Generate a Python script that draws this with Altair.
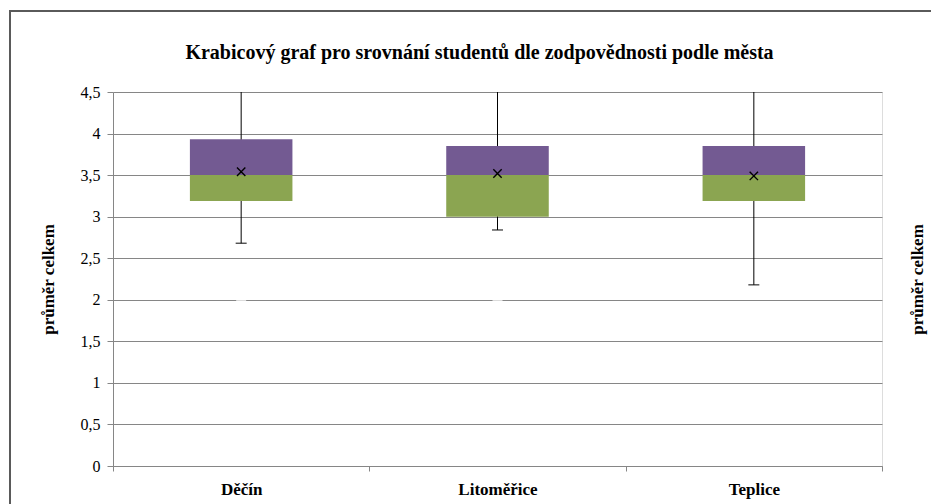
import altair as alt
import pandas as pd

# ---- data ----
cities = ["Děčín", "Litoměřice", "Teplice"]
q1 = [3.19, 3.00, 3.19]
median = [3.50, 3.50, 3.50]
q3 = [3.93, 3.85, 3.85]
whisker_lo = [2.68, 2.84, 2.18]
whisker_hi = [4.50, 4.50, 4.50]
mean = [3.54, 3.52, 3.49]
y_ticks = [0, 0.5, 1, 1.5, 2, 2.5, 3, 3.5, 4, 4.5]
gap_cities = ["Děčín", "Litoměřice"]
gap_values = [2.0, 2.0]

df = pd.DataFrame({
    "city": cities, "q1": q1, "median": median, "q3": q3,
    "lo": whisker_lo, "hi": whisker_hi, "mean": mean,
})
gaps = pd.DataFrame({"city": gap_cities, "v": gap_values})

FONT = "Liberation Serif"
GRID = "#868686"
PURPLE = "#735A92"
GREEN = "#8BA551"

yscale = alt.Scale(domain=[0, 4.5], nice=False, zero=True)
xenc = alt.X(
    "city:N", sort=cities,
    scale=alt.Scale(paddingInner=0, paddingOuter=0),
    axis=alt.Axis(
        title=None, labelAngle=0, tickBand="extent", grid=False,
        domainColor=GRID, tickColor=GRID, tickSize=5, labelPadding=10,
        labelFont=FONT, labelFontSize=17, labelFontWeight="bold", labelColor="black",
    ),
)

left_axis = alt.Axis(
    values=y_ticks, labelExpr="replace(format(datum.value, '~g'), '.', ',')",
    grid=True, gridColor=GRID, gridWidth=1,
    domainColor=GRID, tickColor=GRID, tickSize=6, labelPadding=7,
    labelFont=FONT, labelFontSize=16, labelColor="black",
    title="průměr celkem", titleFont=FONT, titleFontSize=17, titleFontWeight="bold",
    titleColor="black", titleAngle=270, titleX=-60, titleY=187,
    titleAlign="center", titleBaseline="alphabetic",
)

base = alt.Chart(df)

whisker = base.mark_rule(color="black", strokeWidth=1).encode(
    x=xenc, y=alt.Y("lo:Q", scale=yscale, axis=left_axis), y2="hi:Q"
)
gap = alt.Chart(gaps).mark_tick(color="white", thickness=3, size=10).encode(
    x=alt.X("city:N", sort=cities), y=alt.Y("v:Q", scale=yscale)
)
lower_box = base.mark_bar(color=GREEN, width={"band": 0.4}).encode(
    x=alt.X("city:N", sort=cities), y=alt.Y("q1:Q", scale=yscale), y2="median:Q"
)
upper_box = base.mark_bar(color=PURPLE, width={"band": 0.4}).encode(
    x=alt.X("city:N", sort=cities), y=alt.Y("median:Q", scale=yscale), y2="q3:Q"
)
cap = base.mark_tick(color="black", thickness=1.4, size=11).encode(
    x=alt.X("city:N", sort=cities), y=alt.Y("lo:Q", scale=yscale)
)
mean_mark = base.mark_point(
    shape="M-1,-1L1,1M-1,1L1,-1", size=70, filled=False,
    stroke="black", strokeWidth=1.4, opacity=1,
).encode(x=alt.X("city:N", sort=cities), y=alt.Y("mean:Q", scale=yscale))

frame = base.mark_rect(fill="transparent", stroke="#5a5a5a", strokeWidth=2).encode(
    x=alt.value(-103), x2=alt.value(840), y=alt.value(-81), y2=alt.value(430)
)

main = alt.layer(frame, whisker, gap, lower_box, upper_box, cap, mean_mark)

right = base.mark_point(opacity=0).encode(
    x=alt.X("city:N", sort=cities),
    y=alt.Y("mean:Q", scale=yscale, axis=alt.Axis(
        orient="right", labels=False, ticks=False, domain=False, grid=False,
        title="průměr celkem", titleFont=FONT, titleFontSize=17, titleFontWeight="bold",
        titleColor="black", titleAngle=270, titleX=40, titleY=187,
        titleAlign="center", titleBaseline="alphabetic",
    )),
)

chart = alt.layer(main, right).resolve_scale(y="independent").properties(
    width=769, height=374,
    autosize=alt.AutoSizeParams(type="none"),
    padding={"left": 105, "top": 84, "right": 49, "bottom": 38},
    title=alt.TitleParams(
        "Krabicový graf pro srovnání studentů dle zodpovědnosti podle města",
        font=FONT, fontSize=20, fontWeight="bold", color="black",
        anchor="middle", frame="group", offset=0, dy=53, dx=-18,
    ),
).configure_view(stroke=None).configure(background="white")

chart.save("out.html", embed_options={"renderer": "svg", "actions": False})
